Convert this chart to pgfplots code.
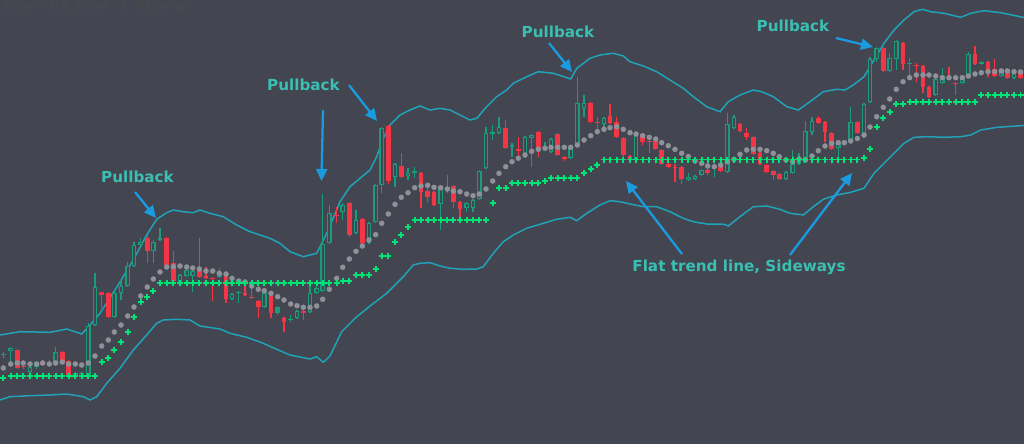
\documentclass[border=0pt]{standalone}
\usepackage{pgfplots}
\usepackage{pgfplotstable}
\pgfplotsset{compat=1.18}
\usetikzlibrary{arrows.meta}
\usepackage{fontspec}
\setmainfont{DejaVu Sans}
\definecolor{bgc}{HTML}{434651}
\definecolor{cred}{HTML}{F23645}
\definecolor{cgrn}{HTML}{1A9C7B}
\definecolor{bandc}{HTML}{20A2B8}
\definecolor{dotc}{HTML}{8F9199}
\definecolor{plusc}{HTML}{00E676}
\definecolor{txtc}{HTML}{3BBFB3}
\definecolor{arrc}{HTML}{1A9BE0}
\tikzset{
  ann/.style={text=txtc, font=\bfseries\fontsize{15.2}{18}\selectfont, anchor=base, inner sep=0pt},
  arr/.style={draw=arrc, line width=2.3pt, -{Triangle[length=12pt,width=11pt]}},
}
\pgfplotsset{
  candle/.style 2 args={draw=none, no markers, forget plot,
    error bars/.cd, y dir=plus, y explicit, error mark=none,
    error bar style={solid, line width=#2, draw=#1}},
}

\pgfplotstableread{
x o h l c
17.3 350 349 369 368
23.3 366 363 369 367
42.7 362 360 366 365
49.3 363 360 366 365
62.3 352 351 364 363
68.7 361 360 376 375
101.7 292 292 308 295
108.3 293 292 318 317
147.3 238 234 263 251
166.7 238 237 266 265
173.3 263 251 282 281
199.3 270 238 278 277
206 276 267 279 278
212.7 278 277 301 279
226 275 274 303 299
245 293 282 296 295
251.7 297 283 299 298
258.3 301 300 318 307
271 293 292 318 313
284 318 317 332 322
303.3 311 310 320 313
336.7 215 207 223 216
349.3 203 202 237 235
362.3 219 218 244 243
388.3 126 125 184 181
401.3 166 153 178 177
421 173 172 208 192
427.7 191 187 202 197
434 192 191 206 205
447.3 187 175 193 189
453.3 186 185 208 202
460 202 201 218 209
505.7 128 120 149 148
518.3 149 137 160 151
538.3 132 131 157 148
557.7 134 133 156 155
564.3 157 156 161 159
590.7 103 102 123 122
597.3 122 117 133 123
610 116 104 124 123
616.7 122 117 138 137
623.3 138 137 160 155
630 156 155 160 159
642.7 134 133 145 142
649.3 141 140 153 142
655.7 141 140 150 149
661.7 150 149 165 164
668.3 164 158 168 167
675 167 164 182 168
681.7 167 166 184 179
707.7 170 169 175 173
720.7 167 160 172 171
740 124 123 132 131
746.7 133 128 140 137
753.3 137 136 155 154
760 153 152 165 164
766.7 165 164 173 172
773.3 171 170 180 175
779.3 174 173 180 179
818.3 118 116 124 123
825 122 121 142 132
831.7 133 132 150 149
857.3 122 121 134 133
883.3 48 47 72 71
903 43 42 70 64
916.3 65 63 82 66
923 66 65 93 87
929 87 86 98 97
949 76 67 80 79
955.7 83 82 95 84
975 54 46 65 64
988 62 61 77 72
994.7 69 59 77 76
1007.3 69 68 79 78
1020.5 72 70 79 78
}\redtab

\pgfplotstableread{
x o h l c
3.3 355 352 358 354
10.7 351 347 362 348
30 372 365 373 367
36.7 367 361 369 362
55.7 365 347 366 352
75.3 375 372 376 373
81.7 374 372 375 373
88.3 375 323 376 326
95 325 273 326 287
114.3 317 292 318 293
121 293 280 300 286
127.7 286 262 287 266
134 266 242 267 245
140.7 245 238 246 242
153.3 251 240 263 242
160 240 228 241 238
180 282 274 283 275
186.7 276 265 277 270
192.7 276 269 292 271
219.3 277 268 278 272
232 299 293 300 294
238.7 293 291 303 292
264.3 307 292 308 293
290.7 320 315 322 319
297 318 310 319 311
310 312 286 313 293
316.7 293 285 294 288
322.7 291 194 292 244
329.3 243 205 244 213
342.7 212 203 220 205
356 233 210 234 220
369 243 222 244 223
375.7 222 184 223 185
381.7 185 127 193 128
395 177 163 187 164
408 176 168 180 173
414.7 173 167 178 171
440.7 204 187 230 188
466.7 208 202 212 203
473 208 199 212 200
479.3 199 170 200 171
486 168 127 169 133
492.7 134 125 140 132
499 133 117 134 127
512 147 143 157 145
525 157 136 158 137
531.7 138 134 167 135
545 149 142 150 147
551 152 138 153 139
570.7 158 147 159 148
577.3 147 77 148 103
584 108 95 117 103
604 124 117 128 118
636 159 133 160 134
688.3 180 173 181 177
695 179 175 180 176
701.7 175 169 176 170
714.3 168 165 177 166
727.3 172 113 173 124
734 128 115 129 117
786 179 171 180 172
792.7 173 150 174 164
799 164 153 165 157
805.3 159 121 160 131
812 132 117 135 121
838.3 148 142 157 143
844.3 143 140 144 141
850.7 140 107 141 122
864 137 103 138 104
870 102 57 103 59
876.7 59 47 62 48
889.7 71 53 72 58
896.3 59 40 70 41
909.7 64 58 75 63
935.7 95 78 96 79
942.3 83 68 84 76
962.3 83 76 84 77
968.3 76 52 77 54
981.3 64 61 65 62
1001.3 76 68 77 69
1014 78 70 79 71
}\grntab

\pgfplotstableread{
x o h l c
277.7 313 306 315 307
}\gfilltab

\pgfplotstableread{
x m p
3.3 368 378
10.7 364 375.7
17.3 363 375.7
23.3 363 375.7
30 364 375.7
36.7 364 375.7
42.7 363 375.7
49.3 364 375.7
55.7 363 375.7
62.3 362 375.7
68.7 364 375.7
75.3 364 375.7
81.7 365 375.7
88.3 363 375.7
95 356 375.7
101.7 346 362
108.3 340 357.7
114.3 332 350
121 325 342
127.7 316 331.7
134 307 317
140.7 296 302
147.3 287 297
153.3 279 291
160 272 283
166.7 267 283
173.3 266.7 283
180 266 283
186.7 267 283
192.7 268 283
199.3 269 283
206 271 283
212.7 271 283
219.3 273.3 283
226 274 283
232 278.3 283
238.7 281 283
245 282 283
251.7 286 283
258.3 289.3 283
264.3 290.7 283
271 293.3 283
277.7 296.7 283
284 300 283
290.7 304 283
297 305.7 283
303.3 307.3 283
310 307.3 283
316.7 306 283
322.7 299.3 283
329.3 289.3 283
336.7 278.3 283
342.7 267.3 280.7
349.3 259 280.7
356 251.3 274.7
362.3 246 274.7
369 240 274.7
375.7 234.7 269
381.7 223.3 256
388.3 214 256
395 204.3 242.3
401.3 197.3 235.3
408 192.7 226.7
414.7 187.7 220
421 186 220
427.7 185.3 220
434 187.3 220
440.7 187.7 220
447.3 189 220
453.3 191 220
460 191.7 220
466.7 194 220
473 195.7 220
479.3 194 220
486 189 220
492.7 181 203.3
499 173.3 188.3
505.7 166.7 188.3
512 161.7 182.7
518.3 158.3 182.7
525 155 182.7
531.7 151.3 182.7
538.3 149.3 182.7
545 148.3 180.7
551 147.3 178.3
557.7 147.3 178.3
564.3 147.3 178.3
570.7 147.3 178.3
577.3 145 178.3
584 140 173.3
590.7 135.7 169.3
597.3 131.7 165
604 129.3 159.5
610 127.7 159.5
616.7 126.7 159.5
623.3 129.3 159.5
630 132.7 159.5
636 134 159.5
642.7 135.7 159.5
649.3 137.3 159.5
655.7 139 159.5
661.7 142.7 159.5
668.3 145.7 159.5
675 149.3 159.5
681.7 153.3 159.5
688.3 156.5 159.5
695 161 159.5
701.7 163.3 159.5
707.7 166 159.5
714.3 166.7 159.5
720.7 165 159.5
727.3 161.7 159.5
734 159.3 159.5
740 154.3 159.5
746.7 150 159.5
753.3 149.3 159.5
760 149.3 159.5
766.7 150.7 159.5
773.3 153.3 159.5
779.3 156.7 159.5
786 160 159.5
792.7 161.7 159.5
799 159 159.5
805.3 160 159.5
812 156 159.5
818.3 150.7 159.5
825 146 159.5
831.7 143.3 159.5
838.3 142.7 159.5
844.3 142.7 159.5
850.7 141 159.5
857.3 138.5 159.5
864 135 158.3
870 127 149.3
876.7 116.7 126.7
883.3 107.3 118.3
889.7 99 112.3
896.3 89.3 104.3
903 81.7 104.3
909.7 77.7 101.7
916.3 75 101.7
923 75 101.7
929 75 101.7
935.7 76 101.7
942.3 77.7 101.7
949 77.7 101.7
955.7 77.7 101.7
962.3 77.7 101.7
968.3 76 101.7
975 74 101.7
981.3 72.7 95
988 71.7 95
994.7 71.7 95
1001.3 71 95
1007.3 71 95
1014 71.7 95
1020.5 72 95
}\indtab

\pgfplotstableread{
x y
0 335
20 331.7
50 332.3
66.7 329
81.7 334
90 325
100 313.3
116.7 287.3
133.3 260
146.7 235
156.7 219.3
166.7 212.7
173.3 210
183.3 211.7
193.3 212.7
200 210
210 213.3
223.3 216.7
236.7 225
250 231.7
270 238.3
280 243.3
290 251.7
303.3 256.7
316.7 253.3
326.7 233.3
336.7 210
340 201.7
350 186.7
360 178.3
370 170
376.7 156.7
383.3 138.3
390 125
400 115
410 110
420 106
430 110
440 108.3
450 110
460 115
470 120
476.7 118.3
486.7 106.7
496.7 96.7
506.7 90
513.3 83.3
526.7 76.7
538.3 71.7
553.3 73.3
561.7 76
570.7 79
576.7 68.3
590 58.3
600 55
613.3 53.3
623.3 56
630 61.7
643.3 66
656.7 71.7
670 80
683.3 88.3
693.3 96.7
706.7 106.7
720 111.7
728.3 101.7
740 95
753.3 90
761.7 91.7
773.3 96.7
786.7 106.7
798.3 110
810 101.7
823.3 91.7
836.7 89.3
845 90
853.3 85
864 76.7
874 60
884 43.3
894 30
904 20
914 11.7
922.3 9.3
930.7 11.7
944 13.3
960.7 17.3
970.7 13.3
984 10.7
1000.7 12.7
1024 17.5
}\uptab

\pgfplotstableread{
x y
0 400
10 396.7
30 395.7
50 395
66.7 394
83.3 396.7
90 400
96.7 396.7
106.7 383.3
120 368.3
133.3 350
146.7 335
156.7 323.3
163.3 320
176.7 319.3
190 320
200 326
220 329
230 333.3
246.7 337.3
263.3 343.3
276.7 349.3
290 355
310 359
316.7 356.7
323.3 362.3
330 356
341.7 331.7
355 318.3
370 306
386.7 293.3
403.3 276.7
413.3 265
420 263.3
430 262.7
440 266
450 268.3
463.3 269.3
476.7 269
483.3 266.7
493.3 253.3
503.3 241.7
513.3 235
526.7 228.3
543.3 223.3
556.7 219.3
570 217.3
576.7 220.7
586.7 213.3
600 205
610 200.7
620 201.7
630 204
643.3 206.7
656.7 206.7
670 211.7
683.3 218.3
693.3 221.7
706.7 224
723.3 224
728.3 226
740 216.7
753.3 206.7
766.7 206
780 209.3
790 213.3
803.3 215
813.3 206.7
823.3 199.3
836.7 195
850 192.5
860 189.5
864 188.3
874 173.3
884 163.3
894 153.3
904 143.3
914 137.3
927.3 136.7
944 137.3
960.7 136.7
970.7 135
980.7 130
997.3 127.3
1024 125.5
}\lowtab

\begin{document}
\begin{tikzpicture}
\fill[bgc] (0,0) rectangle (1024pt,444pt);
\begin{axis}[
  at={(0,0)}, anchor=south west,
  scale only axis, width=1024pt, height=444pt,
  xmin=0, xmax=1024, ymin=0, ymax=444,
  y dir=reverse, axis lines=none, clip=true,
]
% bands
\addplot[bandc, line width=1.5pt, mark=none] table[x=x,y=y] {\uptab};
\addplot[bandc, line width=1.5pt, mark=none] table[x=x,y=y] {\lowtab};
% red candles
\addplot[candle={cred}{1.1pt}]
  table[x=x, y=h, y error plus expr=\thisrow{l}-\thisrow{h}] {\redtab};
\addplot[candle={cred}{4.8pt}]
  table[x=x, y=o, y error plus expr={max(\thisrow{c}-\thisrow{o},1)}] {\redtab};
% green hollow candles
\addplot[candle={cgrn}{1.1pt}]
  table[x=x, y=h, y error plus expr=\thisrow{l}-\thisrow{h}] {\grntab};
\addplot[candle={cgrn}{4.8pt}]
  table[x=x, y=c, y error plus expr={max(\thisrow{o}-\thisrow{c},1)}] {\grntab};
\addplot[candle={bgc}{2.3pt}]
  table[x=x, y expr=\thisrow{c}+1.25, y error plus expr={max(\thisrow{o}-\thisrow{c}-2.5,0)}] {\grntab};
% green filled candle
\addplot[candle={cgrn}{1.1pt}]
  table[x=x, y=h, y error plus expr=\thisrow{l}-\thisrow{h}] {\gfilltab};
\addplot[candle={cgrn}{4.8pt}]
  table[x=x, y=c, y error plus expr={max(\thisrow{o}-\thisrow{c},1)}] {\gfilltab};
% middle dots
\addplot[only marks, mark=*, mark size=2.5pt, color=dotc, mark options={draw=none, fill=dotc}] table[x=x,y=m] {\indtab};
% trailing pluses
\addplot[only marks, mark=+, mark size=3pt, color=plusc, mark options={line width=1.9pt}] table[x=x,y=p] {\indtab};
% annotations
\node[ann] at (axis cs:137.5,182) {Pullback};
\node[ann] at (axis cs:303.5,91) {Pullback};
\node[ann] at (axis cs:558,37.3) {Pullback};
\node[ann] at (axis cs:793,31.5) {Pullback};
\node[ann] at (axis cs:739,271.5) {Flat trend line, Sideways};
\draw[arr] (axis cs:135,192) -- (axis cs:156,218);
\draw[arr] (axis cs:323,110) -- (axis cs:321.5,181);
\draw[arr] (axis cs:349,85) -- (axis cs:377,121);
\draw[arr] (axis cs:549,43) -- (axis cs:572,72);
\draw[arr] (axis cs:836,38) -- (axis cs:873,47);
\draw[arr] (axis cs:682,254) -- (axis cs:626,181);
\draw[arr] (axis cs:790,255) -- (axis cs:852,173);
\node[anchor=base west, inner sep=0pt, text=black!70, font=\fontsize{11}{13}\selectfont] at (axis cs:2,10) {Bitcoin / U.S. Dollar · 3 · Bitstamp};
\end{axis}
\pgfresetboundingbox
\path[use as bounding box] (0,0) rectangle (1024pt,444pt);
\end{tikzpicture}
\end{document}
